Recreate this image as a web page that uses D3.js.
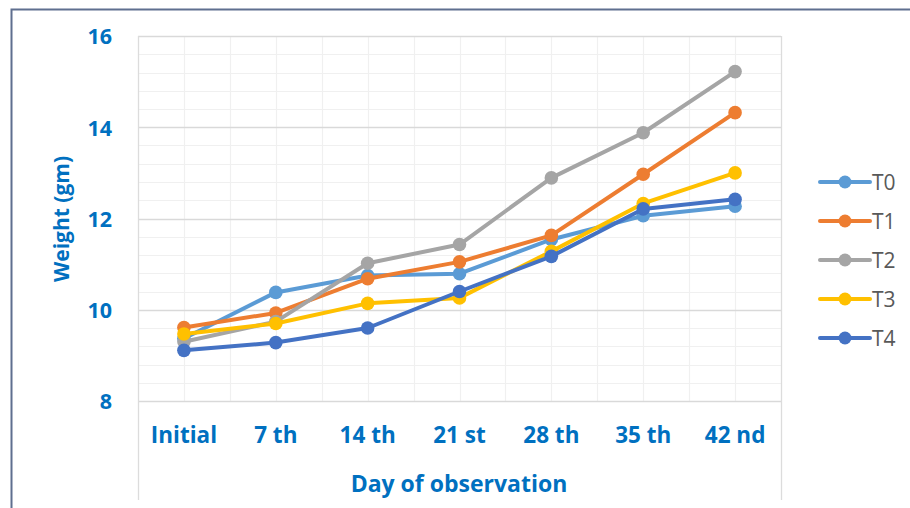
<!DOCTYPE html>
<html>
<head>
<meta charset="utf-8">
<script src="https://cdn.jsdelivr.net/npm/d3@7/dist/d3.min.js"></script>
<style>
  html, body { margin: 0; padding: 0; background: #ffffff; }
  svg { display: block; }
</style>
</head>
<body>
<svg id="chart" width="910" height="508"></svg>
<script>
// Days of observation
const days = ["Initial", "7 th", "14 th", "21 st", "28 th", "35 th", "42 nd"];

// Mean body weight (gm) for each treatment group
const T0 = [9.37, 10.38, 10.75, 10.79, 11.54, 12.06, 12.27];
const T1 = [9.61, 9.93, 10.68, 11.05, 11.63, 12.97, 14.32];
const T2 = [9.30, 9.74, 11.02, 11.43, 12.89, 13.88, 15.22];
const T3 = [9.47, 9.70, 10.14, 10.26, 11.28, 12.33, 13.00];
const T4 = [9.11, 9.28, 9.60, 10.40, 11.17, 12.21, 12.42];

const seriesNames = ["T0", "T1", "T2", "T3", "T4"];
const seriesValues = [T0, T1, T2, T3, T4];
const seriesColors = ["#5b9bd5", "#ed7d31", "#a5a5a5", "#ffc000", "#4472c4"];

const yTicks = [8, 10, 12, 14, 16];

const svg = d3.select("#chart");
const blue = "#0070c0";
const font = "'Open Sans', sans-serif";

// Outer chart frame
svg.append("path")
  .attr("d", "M11.5,520 L11.5,9.5 L920,9.5")
  .attr("fill", "none")
  .attr("stroke", "#5f6f8f")
  .attr("stroke-width", 2);

const plot = { left: 138, right: 781, top: 36, bottom: 401, base: 500 };

const x = d3.scaleBand().domain(days).range([plot.left, plot.right]).padding(0);
const y = d3.scaleLinear().domain([8, 16]).range([plot.bottom, plot.top]);
const cx = d => x(d) + x.bandwidth() / 2;

const grid = svg.append("g");

// Minor horizontal gridlines every 0.4
const minor = d3.range(8, 16.001, 0.4);
grid.selectAll("line.hminor").data(minor).join("line")
  .attr("x1", plot.left).attr("x2", plot.right)
  .attr("y1", d => Math.round(y(d)) + 0.5).attr("y2", d => Math.round(y(d)) + 0.5)
  .attr("stroke", "#f0f0f0").attr("stroke-width", 1.2);

// Vertical gridlines at band edges and centres
const vlines = [];
days.forEach(d => { vlines.push(x(d)); vlines.push(cx(d)); });
grid.selectAll("line.v").data(vlines.slice(1)).join("line")
  .attr("x1", d => Math.round(d) + 0.5).attr("x2", d => Math.round(d) + 0.5)
  .attr("y1", plot.top).attr("y2", plot.bottom)
  .attr("stroke", "#f0f0f0").attr("stroke-width", 1.2);

// Major horizontal gridlines
grid.selectAll("line.hmajor").data(yTicks).join("line")
  .attr("x1", plot.left).attr("x2", plot.right)
  .attr("y1", d => Math.round(y(d)) + 0.5).attr("y2", d => Math.round(y(d)) + 0.5)
  .attr("stroke", "#d9d9d9").attr("stroke-width", 1.3);

// Box edges: left and right edges run down past the category labels
[plot.left, plot.right].forEach(px => {
  grid.append("line")
    .attr("x1", px + 0.5).attr("x2", px + 0.5)
    .attr("y1", plot.top).attr("y2", plot.base)
    .attr("stroke", "#dcdcdc").attr("stroke-width", 1.3);
});

// Y axis tick labels
const yAxis = d3.axisLeft(y).tickValues(yTicks).tickSize(0).tickPadding(0).tickFormat(d3.format("d"));
const yg = svg.append("g").attr("transform", "translate(112,0)").call(yAxis);
yg.select(".domain").remove();
yg.selectAll("text")
  .attr("fill", blue).attr("font-family", font).attr("font-weight", 700)
  .attr("font-size", 21.5).attr("dy", "0.36em");

// X axis category labels
const xAxis = d3.axisBottom(x).tickSize(0).tickPadding(0);
const xg = svg.append("g").attr("transform", "translate(0,443)").call(xAxis);
xg.select(".domain").remove();
xg.selectAll("text")
  .attr("fill", blue).attr("font-family", font).attr("font-weight", 700)
  .attr("font-size", 22.5).attr("dy", 0).attr("y", 0);

// Axis titles
svg.append("text")
  .attr("x", 459).attr("y", 492)
  .attr("text-anchor", "middle")
  .attr("fill", blue).attr("font-family", font).attr("font-weight", 700)
  .attr("font-size", 23)
  .text("Day of observation");

svg.append("text")
  .attr("transform", "translate(69,219) rotate(-90)")
  .attr("text-anchor", "middle")
  .attr("fill", blue).attr("font-family", font).attr("font-weight", 700)
  .attr("font-size", 21)
  .text("Weight (gm)");

// Series lines and markers
const line = d3.line().x((d, i) => cx(days[i])).y(d => y(d));
const series = svg.append("g");
seriesValues.forEach((vals, k) => {
  const g = series.append("g");
  g.append("path")
    .datum(vals)
    .attr("d", line)
    .attr("fill", "none")
    .attr("stroke", seriesColors[k])
    .attr("stroke-width", 4)
    .attr("stroke-linejoin", "round")
    .attr("stroke-linecap", "round");
  g.selectAll("circle").data(vals).join("circle")
    .attr("cx", (d, i) => cx(days[i]))
    .attr("cy", d => y(d))
    .attr("r", 6.8)
    .attr("fill", seriesColors[k]);
});

// Legend
const legend = svg.append("g");
const ly = d3.scalePoint().domain(seriesNames).range([182, 338]);
seriesNames.forEach((name, k) => {
  const yy = ly(name);
  legend.append("line")
    .attr("x1", 820).attr("x2", 870).attr("y1", yy).attr("y2", yy)
    .attr("stroke", seriesColors[k]).attr("stroke-width", 4).attr("stroke-linecap", "round");
  legend.append("circle")
    .attr("cx", 845).attr("cy", yy).attr("r", 6.5).attr("fill", seriesColors[k]);
  legend.append("text")
    .attr("x", 872).attr("y", yy).attr("dy", "0.36em")
    .attr("fill", "#595959").attr("font-family", font).attr("font-size", 21)
    .text(name);
});
</script>
</body>
</html>
